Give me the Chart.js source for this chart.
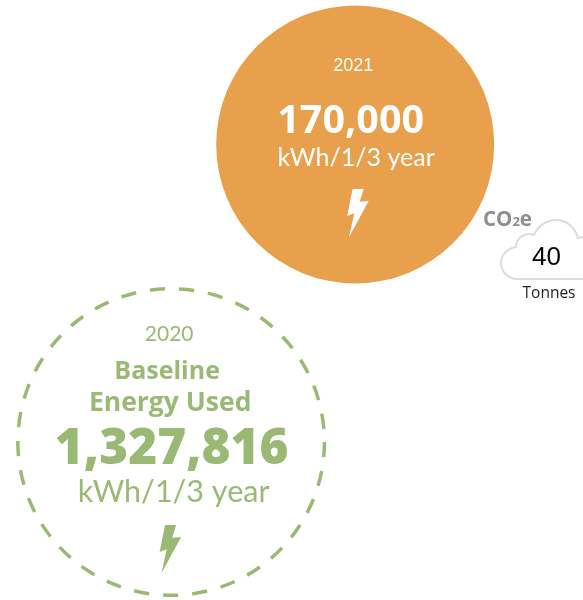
<!DOCTYPE html>
<html>
<head>
<meta charset="utf-8">
<title>Energy used</title>
<style>
    html, body { margin: 0; padding: 0; background: #fff; }
    canvas { display: block; }
</style>
<script src="https://cdn.jsdelivr.net/npm/chart.js@4"></script>
</head>
<body>
<canvas id="energyChart" width="583" height="600"></canvas>
<script>
const years = [2020, 2021];
const energyKwh = [1327816, 170000];
const unitLabel = 'kWh/1/3 year';
const baselineLines = ['Baseline', 'Energy Used'];
const co2Tonnes = [40];
const co2Unit = 'Tonnes';

const GREEN = '#9ab974';
const ORANGE = '#e9a04c';
const GREY = '#8e8e8e';
const CLOUD = '#dcdcdc';
const FONT = 'Lato, sans-serif';
const BOLD = '"Open Sans", sans-serif';
const ARIAL = '"Liberation Sans", sans-serif';

// bolt outline, unit box is 22 wide and 48 high
const boltShape = [[5.4, 0], [16.5, 0], [12.5, 12.7], [21.5, 12], [1.8, 48.3], [7.1, 24.3], [0, 27]];

function text(ctx, str, x, y, font, color, align) {
    ctx.font = font;
    ctx.fillStyle = color;
    ctx.textAlign = align || 'center';
    ctx.textBaseline = 'alphabetic';
    ctx.fillText(str, x, y);
}

function drawBolt(ctx, x, y, color) {
    ctx.beginPath();
    boltShape.forEach((p, i) => {
        if (i === 0) ctx.moveTo(x + p[0], y + p[1]);
        else ctx.lineTo(x + p[0], y + p[1]);
    });
    ctx.closePath();
    ctx.fillStyle = color;
    ctx.fill();
}

function drawCloud(ctx) {
    ctx.beginPath();
    ctx.moveTo(600, 279);
    ctx.lineTo(518, 279);
    ctx.bezierCurveTo(507, 279, 501, 271, 501, 263);
    ctx.bezierCurveTo(501, 255, 508, 248, 516, 247);
    ctx.bezierCurveTo(516, 237, 526, 232, 534, 235);
    ctx.bezierCurveTo(538, 226, 546, 220, 556, 220);
    ctx.bezierCurveTo(566, 220, 575, 227, 578, 238);
    ctx.bezierCurveTo(582, 236, 590, 238, 596, 242);
    ctx.strokeStyle = CLOUD;
    ctx.lineWidth = 2;
    ctx.stroke();
}

// the dashes on the baseline ring are not an option of the point element
const ringDash = {
    id: 'ringDash',
    beforeDatasetDraw(chart, args) {
        if (args.index === 0) chart.ctx.setLineDash([15.2, 14]);
    },
    afterDatasetDraw(chart, args) {
        if (args.index === 0) chart.ctx.setLineDash([]);
    }
};

const circleLabels = {
    id: 'circleLabels',
    afterDraw(chart) {
        const ctx = chart.ctx;
        const base = chart.getDatasetMeta(0).data[0];
        const now = chart.getDatasetMeta(1).data[0];
        ctx.save();

        // 2020 ring
        text(ctx, String(years[0]), base.x - 2, base.y - 101.5, '400 21px ' + FONT, GREEN);
        text(ctx, baselineLines[0], base.x - 4, base.y - 63, '700 25px ' + BOLD, GREEN);
        text(ctx, baselineLines[1], base.x - 1, base.y - 31, '700 26.5px ' + BOLD, GREEN);
        text(ctx, energyKwh[0].toLocaleString('en-US'), base.x + 0.5, base.y + 22, '800 49.5px ' + BOLD, GREEN);
        text(ctx, unitLabel, base.x + 2.5, base.y + 60, '400 30.5px ' + FONT, GREEN);
        drawBolt(ctx, base.x - 11.5, base.y + 83, GREEN);

        // 2021 circle
        text(ctx, String(years[1]), now.x - 2, now.y - 74, '400 18px ' + ARIAL, '#fff');
        text(ctx, energyKwh[1].toLocaleString('en-US'), now.x - 4.5, now.y - 12, '700 39.5px ' + BOLD, '#fff');
        text(ctx, unitLabel, now.x + 1, now.y + 21, '400 25px ' + FONT, '#fff');
        drawBolt(ctx, now.x - 8, now.y + 44.5, '#fff');

        // CO2e cloud
        text(ctx, 'CO', 483, 226, '700 20.5px ' + BOLD, GREY, 'left');
        const coWidth = ctx.measureText('CO').width;
        text(ctx, '2', 483 + coWidth, 226, '700 13px ' + BOLD, GREY, 'left');
        const twoWidth = ctx.measureText('2').width;
        text(ctx, 'e', 483 + coWidth + twoWidth, 226, '700 20.5px ' + BOLD, GREY, 'left');
        drawCloud(ctx);
        text(ctx, String(co2Tonnes[0]), 546.5, 265, '400 26px ' + ARIAL, '#000');
        text(ctx, co2Unit, 549, 298, '400 15.5px ' + BOLD, '#222');

        ctx.restore();
    }
};

new Chart(document.getElementById('energyChart').getContext('2d'), {
    type: 'scatter',
    data: {
        datasets: [
            {
                label: String(years[0]),
                data: [{ x: years[0], y: energyKwh[0] }],
                pointRadius: 153.3,
                pointBorderWidth: 3.5,
                pointBackgroundColor: 'rgba(0,0,0,0)',
                pointBorderColor: GREEN,
                clip: false
            },
            {
                label: String(years[1]),
                data: [{ x: years[1], y: energyKwh[1] }],
                pointRadius: 139,
                pointBorderWidth: 0,
                pointBackgroundColor: ORANGE,
                pointBorderColor: ORANGE,
                clip: false
            }
        ]
    },
    options: {
        responsive: false,
        animation: false,
        events: [],
        layout: { padding: 0, autoPadding: false },
        plugins: {
            legend: { display: false },
            tooltip: { enabled: false }
        },
        scales: {
            x: { type: 'linear', display: false, min: 2019.07, max: 2022.238 },
            y: { type: 'linear', display: false, reverse: true, min: -392370, max: 1942710 }
        }
    },
    plugins: [ringDash, circleLabels]
});
</script>
</body>
</html>
